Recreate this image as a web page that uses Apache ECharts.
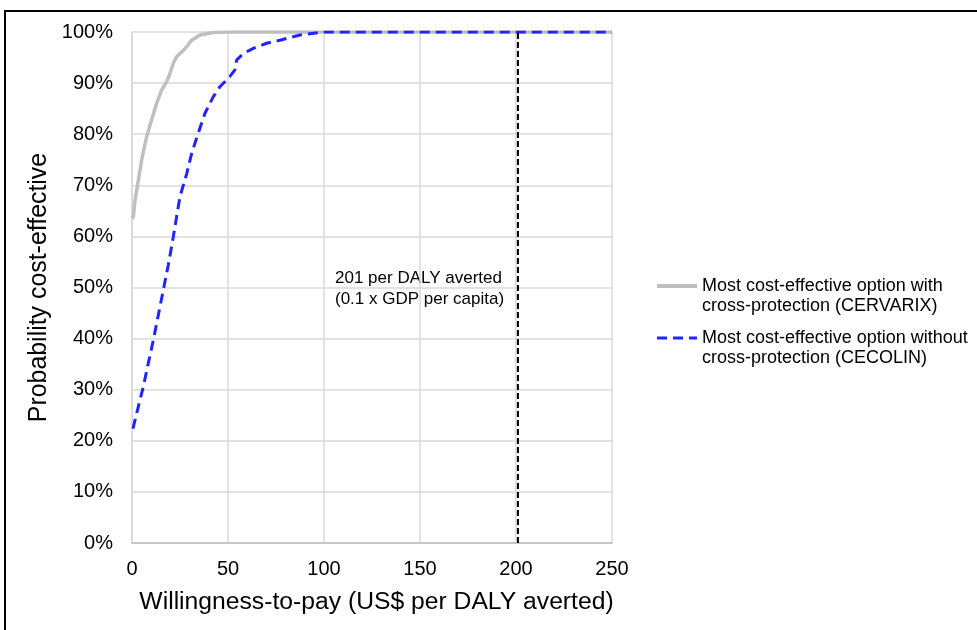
<!DOCTYPE html>
<html>
<head>
<meta charset="utf-8">
<script src="https://cdn.jsdelivr.net/npm/echarts@6/dist/echarts.min.js"></script>
<style>html,body{margin:0;padding:0;background:#fff;}#c{width:977px;height:630px;}</style>
</head>
<body>
<div id="c"></div>
<script>
// Willingness-to-pay (US$ per DALY averted)
const cervarixX = [0, 0.7, 1.6, 3.3, 5.0, 7.6, 10.2, 12.8, 15.4, 18.1, 19.8, 21.5, 23.3, 25.9, 28.5, 31.1, 35.4, 42.3, 51, 100, 150, 200, 250];
const cervarixY = [63.5, 63.9, 67.1, 71.0, 74.9, 79.5, 82.8, 86.0, 88.6, 90.3, 91.9, 93.9, 95.2, 96.1, 97.1, 98.4, 99.4, 99.9, 100, 100, 100, 100, 100];
const cecolinX = [0.5, 3.3, 5.9, 8.5, 11.1, 13.7, 16.3, 18.9, 21.5, 24.1, 25, 28.5, 31.1, 34.5, 38.0, 42.3, 45.8, 51.0, 53.6, 54.5, 58.0, 63.2, 70.1, 77.1, 87.5, 97.9, 100, 150, 200, 250];
const cecolinY = [22.4, 26.7, 30.6, 35.2, 39.7, 44.6, 49.5, 54.4, 59.9, 65.8, 67.8, 72.3, 76.3, 80.2, 84.1, 87.3, 89.3, 91.3, 92.6, 94.5, 95.8, 96.8, 97.8, 98.4, 99.4, 99.9, 100, 100, 100, 100];
const thresholdX = [201, 201];
const thresholdY = [0, 100];
const seriesNames = ['Most cost-effective option with\ncross-protection (CERVARIX)', 'Most cost-effective option without\ncross-protection (CECOLIN)'];
const annotation = '201 per DALY averted\n(0.1 x GDP per capita)';
const xTitle = 'Willingness-to-pay (US$ per DALY averted)';
const yTitle = 'Probability cost-effective';

const zip = (xs, ys) => xs.map((x, i) => [x, ys[i]]);
const FONT = "'Liberation Sans', Arial, sans-serif";

const chart = echarts.init(document.getElementById('c'), null, {renderer: 'canvas'});
chart.setOption({
  animation: false,
  backgroundColor: '#fff',
  textStyle: {fontFamily: FONT, color: '#000'},
  grid: {left: 132, top: 32, width: 480, height: 511},
  xAxis: {
    type: 'value', min: 0, max: 250, interval: 50,
    name: xTitle, nameLocation: 'middle', nameGap: 47,
    nameTextStyle: {fontSize: 24.7, color: '#000', fontFamily: FONT, padding: [0, 0, 0, 9]},
    axisLine: {show: true, lineStyle: {color: '#bfbfbf', width: 1.5}},
    axisTick: {show: false},
    axisLabel: {fontSize: 20, color: '#000', margin: 16, fontFamily: FONT},
    splitLine: {show: true, lineStyle: {color: '#d9d9d9', width: 1.5}}
  },
  yAxis: {
    type: 'value', min: 0, max: 100, interval: 10,
    name: yTitle, nameLocation: 'middle', nameGap: 80,
    nameTextStyle: {fontSize: 24.9, color: '#000', fontFamily: FONT},
    axisLine: {show: true, lineStyle: {color: '#d9d9d9', width: 1.5}},
    axisTick: {show: false},
    axisLabel: {fontSize: 20, color: '#000', margin: 19, formatter: '{value}%', fontFamily: FONT},
    splitLine: {show: true, lineStyle: {color: '#d9d9d9', width: 1.5}}
  },
  legend: {
    orient: 'vertical', left: 655, top: 256, padding: 0, itemGap: -8,
    itemWidth: 40, itemHeight: 14,
    data: [
      {name: seriesNames[0], lineStyle: {width: 4}},
      {name: seriesNames[1], lineStyle: {width: 3}}
    ],
    formatter: name => ' \n' + name,
    itemStyle: {opacity: 0, borderWidth: 0},
    textStyle: {fontSize: 18, lineHeight: 20, color: '#000', fontFamily: FONT}
  },
  series: [
    {
      name: seriesNames[0], type: 'line', symbol: 'none', showSymbol: false,
      data: zip(cervarixX, cervarixY),
      lineStyle: {color: '#bfbfbf', width: 3.5},
      itemStyle: {color: '#bfbfbf'},
      z: 2
    },
    {
      name: seriesNames[1], type: 'line', symbol: 'none', showSymbol: false,
      data: zip(cecolinX, cecolinY),
      lineStyle: {color: '#2323ff', width: 3, type: [10, 6]},
      itemStyle: {color: '#2323ff'},
      z: 3
    },
    {
      name: 'threshold', type: 'line', symbol: 'none', showSymbol: false,
      data: zip(thresholdX, thresholdY),
      lineStyle: {color: '#000', width: 2, type: [6, 3]},
      z: 4
    }
  ],
  graphic: [
    {type: 'rect', shape: {x: 5, y: 11, width: 1100, height: 800}, style: {fill: 'none', stroke: '#000', lineWidth: 2}, silent: true},
    {type: 'text', x: 335, y: 268, style: {text: annotation, font: "17px 'Liberation Sans', Arial, sans-serif", lineHeight: 21, fill: '#000', verticalAlign: 'top'}}
  ]
});
</script>
</body>
</html>
